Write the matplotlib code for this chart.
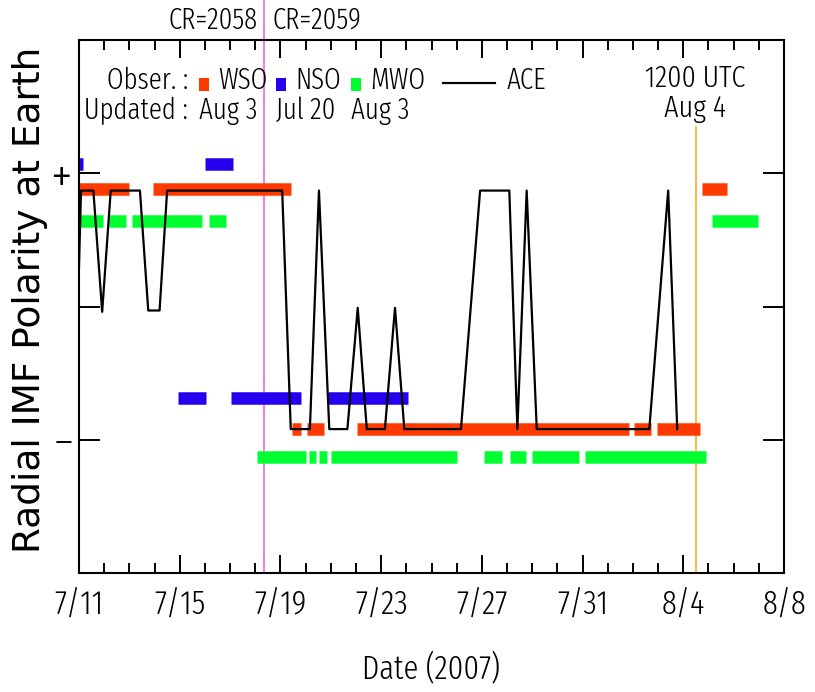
import matplotlib
matplotlib.use("Agg")
import matplotlib.pyplot as plt
from matplotlib.patches import Rectangle
from matplotlib.ticker import MultipleLocator, FixedLocator

plt.rcParams["font.family"] = ["Fira Sans Extra Condensed", "DejaVu Sans"]
plt.rcParams["font.weight"] = 300

# x is in days since 2007-07-11 00:00
tick_days = [0, 4, 8, 12, 16, 20, 24, 28]
tick_labels = ["7/11", "7/15", "7/19", "7/23", "7/27", "7/31", "8/4", "8/8"]

cr_boundary_day = 7.35     # start of CR 2059
now_day = 24.5             # 1200 UTC Aug 4

# observed polarity runs: (start day, end day, polarity)
wso_runs = [(0.0, 2.0, 1), (2.95, 8.4, 1), (8.45, 8.8, -1), (9.05, 9.75, -1),
            (11.05, 21.85, -1), (22.05, 22.7, -1), (22.95, 24.65, -1),
            (24.75, 25.75, 1)]
nso_runs = [(0.0, 0.15, 1), (3.95, 5.05, -1), (5.0, 6.1, 1), (6.05, 8.8, -1),
            (9.9, 13.05, -1)]
mwo_runs = [(0.0, 0.95, 1), (1.2, 1.87, 1), (2.1, 4.9, 1), (5.16, 5.84, 1),
            (7.05, 9.0, -1), (9.15, 9.4, -1), (9.55, 9.85, -1), (10.0, 15.0, -1),
            (16.1, 16.8, -1), (17.1, 17.75, -1), (18.0, 19.85, -1),
            (20.1, 24.9, -1), (25.15, 26.95, 1)]

ace_day = [0.0, 0.08, 0.57, 0.92, 1.26, 2.42, 2.75, 3.2, 3.5, 8.07, 8.41,
           9.17, 9.53, 9.94, 10.66, 11.07, 11.43, 12.15, 12.55, 12.92, 15.17,
           15.93, 17.09, 17.41, 17.78, 18.18, 22.65, 23.4, 23.76]
ace_val = [0.30, 0.87, 0.87, -0.04, 0.87, 0.87, -0.03, -0.03, 0.87, 0.87, -0.92,
           -0.92, 0.87, -0.92, -0.92, -0.01, -0.92, -0.92, -0.01, -0.92, -0.92,
           0.87, 0.87, -0.92, 0.87, -0.92, -0.92, 0.87, -0.92]

# where each observatory's + / - rows sit on the plot
levels = {"WSO": (0.88, -0.92), "NSO": (1.07, -0.69), "MWO": (0.64, -1.13)}
colors = {"WSO": "#ff3a00", "NSO": "#2400ee", "MWO": "#00ff30"}

W, H = 815, 692
fig = plt.figure(figsize=(W / 100, H / 100), dpi=100)
ax = fig.add_axes([79 / W, 1 - 573 / H, 705 / W, 533 / H])


def px(x, y):
    # pixel position -> figure fraction
    return x / W, 1 - y / H


for name, runs in (("WSO", wso_runs), ("NSO", nso_runs), ("MWO", mwo_runs)):
    up, down = levels[name]
    for a, b, pol in runs:
        ax.hlines(up if pol > 0 else down, a, b, colors=colors[name],
                  linewidth=9, capstyle="butt", zorder=2)

ax.plot(ace_day, ace_val, color="black", linewidth=1.6, zorder=3)

ax.axvline(cr_boundary_day, ymin=0, ymax=573 / 533, color="#ee66ee",
           linewidth=1.2, clip_on=False, zorder=1)
ax.axvline(now_day, ymin=0, ymax=(573 - 127) / 533, color="#ffaa22",
           linewidth=1.2, clip_on=False, zorder=1)

ax.set_xlim(0, 28)
ax.set_ylim(-2, 2)
ax.xaxis.set_major_locator(FixedLocator(tick_days))
ax.set_xticklabels(tick_labels, fontsize=24)
ax.xaxis.set_minor_locator(MultipleLocator(1))
ax.set_yticks([-1, 0, 1])
ax.set_yticklabels(["\u2013", "", "+"], fontsize=30)
ax.get_yticklabels()[2].set_fontsize(38)
ax.tick_params(which="both", direction="in", top=True, right=True, width=1.4)
ax.tick_params(axis="x", which="major", length=13, pad=11)
ax.tick_params(axis="x", which="minor", length=7)
ax.tick_params(axis="y", which="major", length=15, pad=5)
for s in ax.spines.values():
    s.set_linewidth(1.5)

# labels
fig.text(*px(30, 300), "Radial IMF Polarity at Earth", rotation=90,
         ha="center", va="center", fontsize=27, family=["DejaVu Sans"],
         weight="normal")
fig.text(*px(431, 668), "Date (2007)", ha="center", va="center", fontsize=24)

fig.text(*px(258, 29), "CR=2058", ha="right", va="baseline", fontsize=21)
fig.text(*px(273, 29), "CR=2059", ha="left", va="baseline", fontsize=21)

# legend block
fs = 21
fig.text(*px(188, 89), "Obser. :", ha="right", va="baseline", fontsize=fs)
fig.text(*px(188, 119), "Updated :", ha="right", va="baseline", fontsize=fs)
legend_rows = [("WSO", 199, "Aug 3"), ("NSO", 276, "Jul 20"), ("MWO", 351, "Aug 3")]
for name, x0, updated in legend_rows:
    fig.add_artist(Rectangle(px(x0, 91), 10 / W, 13 / H, transform=fig.transFigure,
                             facecolor=colors[name], edgecolor="none"))
    fig.text(*px(x0 + 19, 89), name, ha="left", va="baseline", fontsize=fs)
    fig.text(*px(x0, 119), updated, ha="left", va="baseline", fontsize=fs)

fig.add_artist(plt.Line2D([443 / W, 495 / W], [1 - 83 / H, 1 - 83 / H],
                          transform=fig.transFigure, color="black", linewidth=1.6))
fig.text(*px(507, 89), "ACE", ha="left", va="baseline", fontsize=fs)
fig.text(*px(695, 87), "1200 UTC", ha="center", va="baseline", fontsize=22)
fig.text(*px(695, 117), "Aug 4", ha="center", va="baseline", fontsize=22)

fig.savefig("out.png", dpi=100)
